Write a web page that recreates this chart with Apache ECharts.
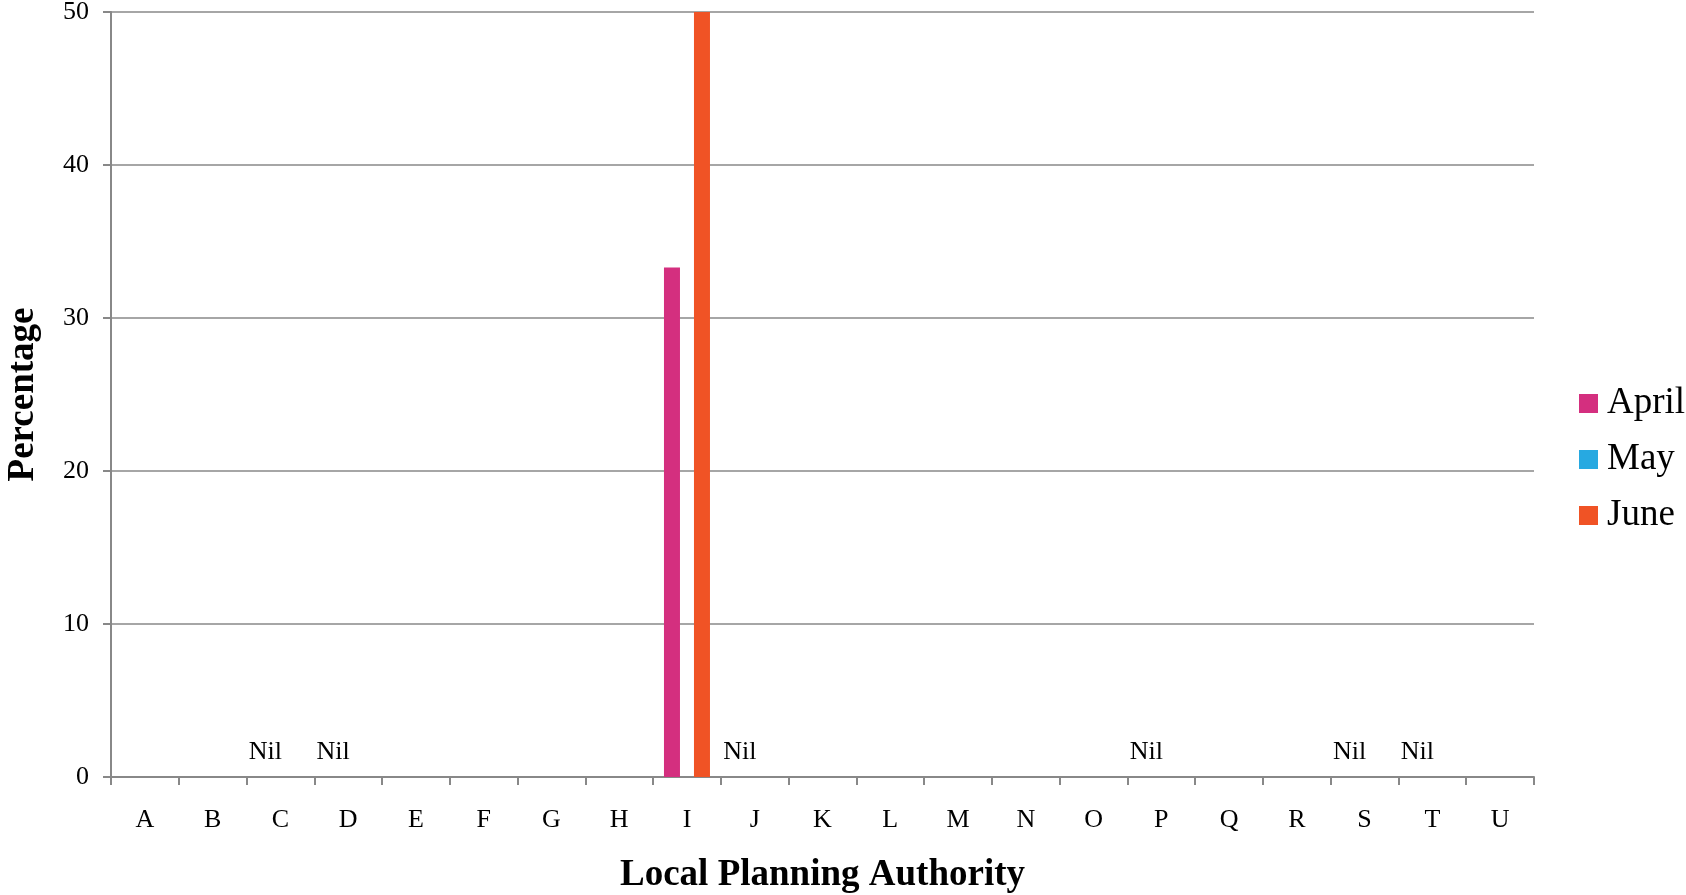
<!DOCTYPE html>
<html>
<head>
<meta charset="utf-8">
<script src="https://cdn.jsdelivr.net/npm/echarts@6/dist/echarts.min.js"></script>
<style>
html,body{margin:0;padding:0;background:#fff;}
#chart{width:1686px;height:895px;}
</style>
</head>
<body>
<div id="chart"></div>
<script>
const categories = ['A','B','C','D','E','F','G','H','I','J','K','L','M','N','O','P','Q','R','S','T','U'];
const aprilValues = [0,0,0,0,0,0,0,0,33.3,0,0,0,0,0,0,0,0,0,0,0,0];
const mayValues   = [0,0,0,0,0,0,0,0,0,0,0,0,0,0,0,0,0,0,0,0,0];
const juneValues  = [0,0,0,0,0,0,0,0,50,0,0,0,0,0,0,0,0,0,0,0,0];
const nilCategories = ['C','D','J','P','S','T'];
const yTicks = [0,10,20,30,40,50];

const FONT = '"Liberation Serif", "Times New Roman", serif';
const chart = echarts.init(document.getElementById('chart'));
chart.setOption({
  animation: false,
  backgroundColor: '#ffffff',
  textStyle: { fontFamily: FONT },
  grid: { left: 111, right: 152, top: 12, bottom: 118, containLabel: false, outerBoundsMode: 'none' },
  legend: {
    orient: 'vertical',
    left: 1574,
    top: 380,
    icon: 'rect',
    itemWidth: 19,
    itemHeight: 19,
    itemGap: 19,
    textStyle: { fontFamily: FONT, fontSize: 37, color: '#000', padding: [0,0,0,4] },
    data: ['April','May','June']
  },
  xAxis: {
    type: 'category',
    data: categories,
    boundaryGap: true,
    axisLine: { show: true, lineStyle: { color: '#888', width: 2 } },
    axisTick: { show: true, length: 8, lineStyle: { color: '#888', width: 2 } },
    axisLabel: { fontFamily: FONT, fontSize: 26, color: '#000', margin: 30 },
    name: 'Local Planning Authority',
    nameLocation: 'middle',
    nameGap: 80,
    nameTextStyle: { fontFamily: FONT, fontSize: 37, fontWeight: 'bold', color: '#000' }
  },
  yAxis: {
    type: 'value',
    min: 0, max: 50, interval: 10,
    axisLine: { show: true, lineStyle: { color: '#888', width: 2 } },
    axisTick: { show: true, length: 8, lineStyle: { color: '#888', width: 2 } },
    splitLine: { show: true, lineStyle: { color: '#888', width: 1.5 } },
    axisLabel: {
      fontFamily: FONT, fontSize: 26, color: '#000', margin: 22,
      formatter: v => yTicks.includes(v) ? String(v) : ''
    },
    name: 'Percentage',
    nameLocation: 'middle',
    nameGap: 69,
    nameTextStyle: { fontFamily: FONT, fontSize: 37, fontWeight: 'bold', color: '#000' }
  },
  series: [
    {
      name: 'April', type: 'bar', data: aprilValues,
      barWidth: 16, barGap: '-6.25%',
      itemStyle: { color: '#D42F7F' },
      label: {
        show: true, position: 'top', distance: 12,
        fontFamily: FONT, fontSize: 26, color: '#000',
        formatter: p => nilCategories.includes(p.name) ? 'Nil' : ''
      }
    },
    {
      name: 'May', type: 'bar', data: mayValues,
      barWidth: 16, barGap: '-6.25%',
      itemStyle: { color: '#27A9E1' }
    },
    {
      name: 'June', type: 'bar', data: juneValues,
      barWidth: 16, barGap: '-6.25%',
      itemStyle: { color: '#F05325' }
    }
  ]
});
</script>
</body>
</html>
